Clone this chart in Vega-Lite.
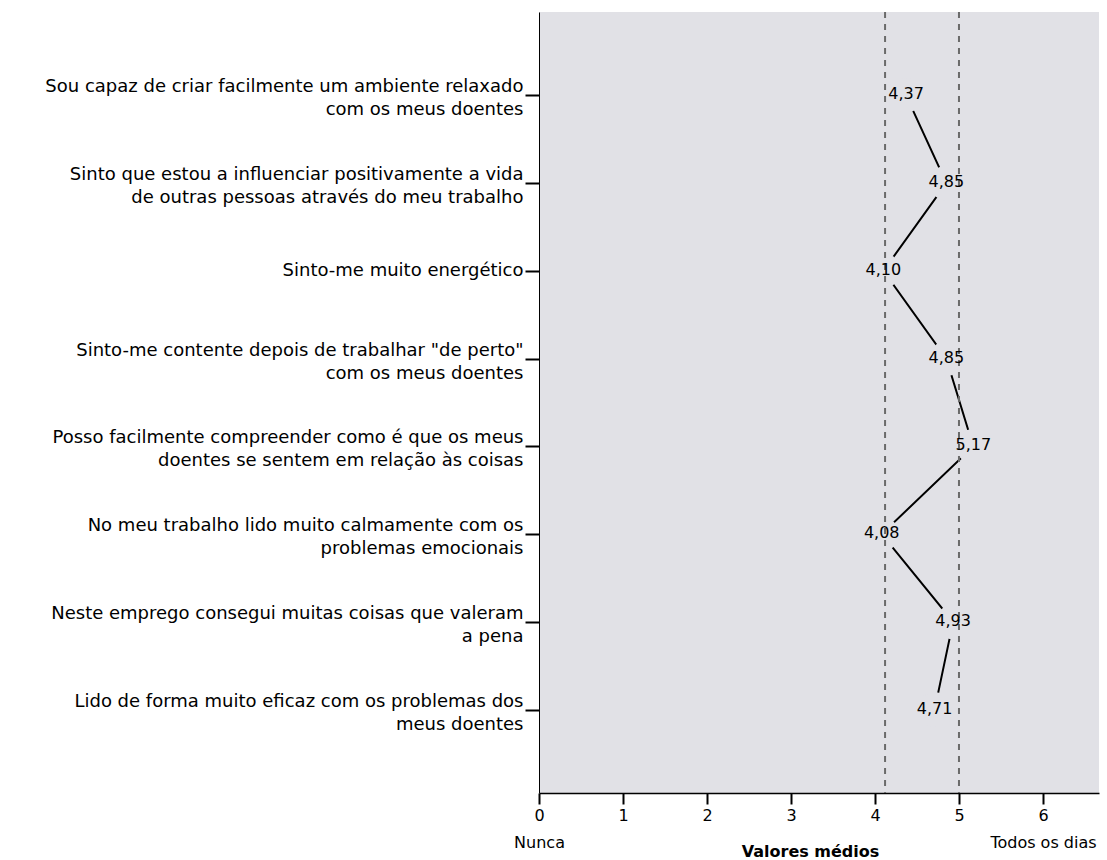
{
  "$schema": "https://vega.github.io/schema/vega-lite/v6.json",
  "width": 560,
  "height": 781,
  "autosize": {"type": "none"},
  "padding": {"left": 539, "top": 12, "right": 8, "bottom": 67},
  "background": "#ffffff",
  "config": {
    "view": {"fill": "#e1e1e6", "stroke": null},
    "font": "DejaVu Sans",
    "locale": {"number": {"decimal": ",", "thousands": ".", "grouping": [3], "currency": ["", " €"]}}
  },
  "datasets": {
    "items": [
      {"idx": 1, "item": "Sou capaz de criar facilmente um ambiente relaxado|com os meus doentes", "media": 4.37},
      {"idx": 2, "item": "Sinto que estou a influenciar positivamente a vida|de outras pessoas através do meu trabalho", "media": 4.85},
      {"idx": 3, "item": "Sinto-me muito energético", "media": 4.10},
      {"idx": 4, "item": "Sinto-me contente depois de trabalhar \"de perto\"|com os meus doentes", "media": 4.85},
      {"idx": 5, "item": "Posso facilmente compreender como é que os meus|doentes se sentem em relação às coisas", "media": 5.17},
      {"idx": 6, "item": "No meu trabalho lido muito calmamente com os|problemas emocionais", "media": 4.08},
      {"idx": 7, "item": "Neste emprego consegui muitas coisas que valeram|a pena", "media": 4.93},
      {"idx": 8, "item": "Lido de forma muito eficaz com os problemas dos|meus doentes", "media": 4.71}
    ],
    "refs": [{"ref": 4.12}, {"ref": 5.0}]
  },
  "layer": [
    {
      "data": {"name": "items"},
      "mark": {"type": "line", "color": "#000000", "strokeWidth": 2},
      "encoding": {
        "x": {
          "field": "media", "type": "quantitative",
          "scale": {"domain": [0, 6.667], "nice": false, "zero": true},
          "axis": {
            "values": [0, 1, 2, 3, 4, 5, 6],
            "grid": false,
            "domainColor": "#000000", "domainWidth": 1.5,
            "tickColor": "#000000", "tickSize": 11, "tickWidth": 2,
            "labelFont": "DejaVu Sans", "labelFontSize": 16, "labelColor": "#000000",
            "labelPadding": 3, "labelLineHeight": 27, "labelFlush": false, "labelOverlap": false,
            "labelExpr": "datum.value == 0 ? ['0', 'Nunca'] : datum.value == 6 ? ['6', 'Todos os dias'] : '' + datum.value",
            "title": "Valores médios",
            "titleFont": "DejaVu Sans", "titleFontSize": 16, "titleFontWeight": "bold", "titleColor": "#000000",
            "titleBaseline": "top", "titleAlign": "center", "titleX": 271, "titleY": 50
          }
        },
        "y": {
          "field": "item", "type": "nominal", "sort": null,
          "scale": {"type": "point", "padding": 0.95},
          "axis": {
            "title": null,
            "domainColor": "#000000", "domainWidth": 1,
            "tickColor": "#000000", "tickSize": 14, "tickWidth": 2,
            "labelFont": "DejaVu Sans", "labelFontSize": 18, "labelColor": "#000000",
            "labelPadding": 2, "labelLimit": 600, "labelLineHeight": 23,
            "labelOffset": {"condition": {"test": "indexof(datum.value, '|') >= 0", "value": -8.5}, "value": 0},
            "labelExpr": "split(datum.label, '|')"
          }
        },
        "order": {"field": "idx"}
      }
    },
    {
      "data": {"name": "items"},
      "mark": {"type": "point", "shape": "circle", "filled": true, "size": 1200, "color": "#e1e1e6", "opacity": 1, "strokeWidth": 0},
      "encoding": {
        "x": {"field": "media", "type": "quantitative"},
        "y": {"field": "item", "type": "nominal", "sort": null}
      }
    },
    {
      "data": {"name": "refs"},
      "mark": {"type": "rule", "color": "#6a6a6a", "strokeWidth": 2, "strokeDash": [6, 6]},
      "encoding": {
        "x": {"field": "ref", "type": "quantitative"}
      }
    },
    {
      "data": {"name": "items"},
      "mark": {"type": "text", "font": "DejaVu Sans", "fontSize": 16, "color": "#000000", "align": "center", "baseline": "middle", "dy": -1},
      "encoding": {
        "x": {"field": "media", "type": "quantitative"},
        "y": {"field": "item", "type": "nominal", "sort": null},
        "text": {"field": "media", "type": "quantitative", "format": ".2f"}
      }
    }
  ]
}
